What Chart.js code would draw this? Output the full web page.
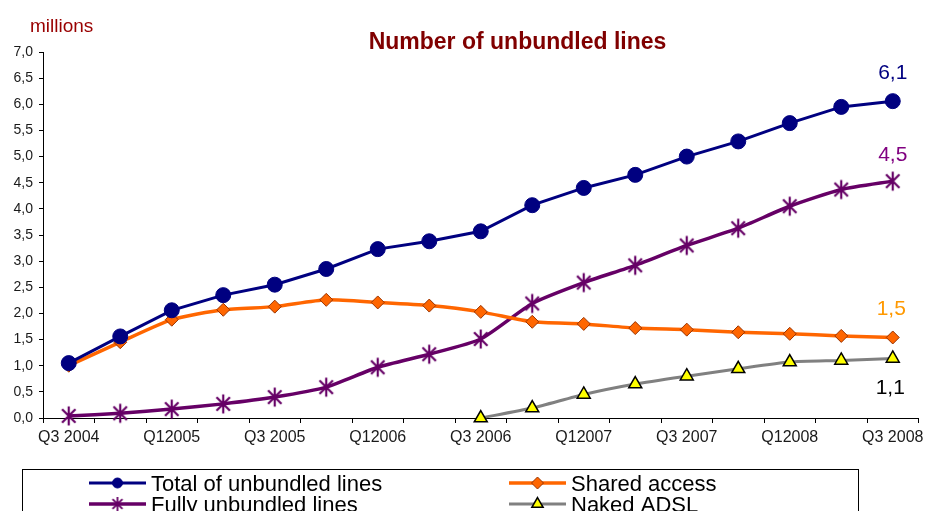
<!DOCTYPE html>
<html>
<head>
<meta charset="utf-8">
<script src="https://cdn.jsdelivr.net/npm/chart.js@4/dist/chart.umd.min.js"></script>
<style>
  html, body { margin: 0; padding: 0; background: #fff; }
  #wrap { width: 929px; height: 511px; overflow: hidden; }
</style>
</head>
<body>
<div id="wrap"><canvas id="c" width="929" height="511"></canvas></div>
<script>
// Quarterly figures, in millions of lines
const quarters = ['Q3 2004', 'Q4 2004', 'Q12005', 'Q2 2005', 'Q3 2005', 'Q4 2005',
                  'Q12006', 'Q2 2006', 'Q3 2006', 'Q4 2006', 'Q12007', 'Q2 2007',
                  'Q3 2007', 'Q4 2007', 'Q12008', 'Q2 2008', 'Q3 2008'];
const totalLines     = [1.05, 1.56, 2.06, 2.35, 2.55, 2.85, 3.23, 3.38, 3.57, 4.07, 4.40, 4.65, 5.00, 5.29, 5.64, 5.95, 6.06];
const sharedAccess   = [1.00, 1.45, 1.88, 2.07, 2.13, 2.26, 2.21, 2.15, 2.03, 1.84, 1.80, 1.72, 1.69, 1.64, 1.61, 1.57, 1.54];
const fullyUnbundled = [0.04, 0.09, 0.17, 0.27, 0.40, 0.59, 0.97, 1.22, 1.51, 2.19, 2.59, 2.92, 3.30, 3.63, 4.05, 4.37, 4.53];
const nakedAdsl      = [null, null, null, null, null, null, null, null, 0.00, 0.19, 0.45, 0.65, 0.80, 0.94, 1.07, 1.10, 1.14];
const seriesNames    = ['Total of unbundled lines', 'Shared access', 'Fully unbundled lines', 'Naked ADSL'];
const yMin = 0, yMax = 7, yStep = 0.5;

const FONT = "'Liberation Sans', Arial, Helvetica, sans-serif";
const fmt = v => v.toFixed(1).replace('.', ',');

// Asterisk marker (vertical stroke plus two diagonals)
function asterisk(color, r, lw) {
  const s = Math.ceil(2 * r + lw + 2);
  const cv = document.createElement('canvas');
  cv.width = s; cv.height = s;
  const g = cv.getContext('2d');
  const c = s / 2;
  g.strokeStyle = color; g.lineWidth = lw; g.lineCap = 'butt';
  g.beginPath();
  g.moveTo(c, c - r); g.lineTo(c, c + r);
  const d = r * Math.SQRT1_2;
  g.moveTo(c - d, c - d); g.lineTo(c + d, c + d);
  g.moveTo(c - d, c + d); g.lineTo(c + d, c - d);
  g.stroke();
  return cv;
}
const starBig = asterisk('#660066', 9.5, 2.2);
const starSmall = asterisk('#660066', 7, 1.8);

// Title and unit caption
const headerPlugin = {
  id: 'header',
  afterDraw(chart) {
    const ctx = chart.ctx;
    ctx.save();
    ctx.textBaseline = 'alphabetic';
    ctx.textAlign = 'center';
    ctx.fillStyle = '#800000';
    ctx.font = 'bold 23px ' + FONT;
    ctx.fillText('Number of unbundled lines', 517.5, 49);
    ctx.textAlign = 'left';
    ctx.fillStyle = '#990000';
    ctx.font = '19px ' + FONT;
    ctx.fillText('millions', 30, 32);
    ctx.restore();
  }
};

// Value of the last point written next to it
const endLabelPlugin = {
  id: 'endLabels',
  afterDatasetsDraw(chart) {
    const ctx = chart.ctx;
    ctx.save();
    ctx.font = '21px ' + FONT;
    ctx.textAlign = 'center';
    ctx.textBaseline = 'middle';
    chart.data.datasets.forEach((ds, i) => {
      if (!ds.endLabel) return;
      const meta = chart.getDatasetMeta(i);
      const last = ds.data.length - 1;
      const pt = meta.data[last];
      ctx.fillStyle = ds.endLabel.color;
      ctx.fillText(fmt(ds.data[last]), pt.x + ds.endLabel.dx, pt.y + ds.endLabel.dy);
    });
    ctx.restore();
  }
};

// Boxed two-column legend under the axis
const boxLegendPlugin = {
  id: 'boxLegend',
  afterDraw(chart) {
    const ctx = chart.ctx;
    const slots = [[89, 483], [509, 483], [89, 504], [509, 504]];
    ctx.save();
    ctx.strokeStyle = '#000';
    ctx.lineWidth = 1;
    ctx.strokeRect(22.5, 469.5, 836, 60);
    chart.data.datasets.forEach((ds, i) => {
      const [x, y] = slots[i];
      ctx.strokeStyle = ds.borderColor;
      ctx.lineWidth = ds.borderWidth;
      ctx.beginPath();
      ctx.moveTo(x, y); ctx.lineTo(x + 57, y);
      ctx.stroke();
      ctx.fillStyle = ds.pointBackgroundColor;
      ctx.strokeStyle = ds.pointBorderColor;
      ctx.lineWidth = ds.pointBorderWidth;
      Chart.helpers.drawPoint(ctx, {
        pointStyle: ds.legendPointStyle || ds.pointStyle,
        radius: ds.legendRadius,
        rotation: 0,
        borderWidth: ds.pointBorderWidth
      }, x + 28.5, y);
      ctx.fillStyle = '#000';
      ctx.font = '22px ' + FONT;
      ctx.textAlign = 'left';
      ctx.textBaseline = 'alphabetic';
      ctx.fillText(ds.label, x + 62, y + 8);
    });
    ctx.restore();
  }
};

new Chart(document.getElementById('c'), {
  type: 'line',
  data: {
    labels: quarters,
    datasets: [
      {
        label: seriesNames[0], data: totalLines,
        borderColor: '#000080', borderWidth: 3, tension: 0,
        pointStyle: 'circle', pointRadius: 7.5, legendRadius: 5,
        pointBackgroundColor: '#000080', pointBorderColor: '#000080', pointBorderWidth: 1,
        endLabel: { color: '#000080', dx: 0, dy: -28 }
      },
      {
        label: seriesNames[1], data: sharedAccess,
        borderColor: '#FF6600', borderWidth: 3.5, tension: 0.2,
        pointStyle: 'rectRot', pointRadius: 6.5, legendRadius: 6,
        pointBackgroundColor: '#FF6600', pointBorderColor: '#993300', pointBorderWidth: 1,
        endLabel: { color: '#FF9900', dx: -1.5, dy: -28 }
      },
      {
        label: seriesNames[2], data: fullyUnbundled,
        borderColor: '#660066', borderWidth: 3.5, tension: 0.2,
        pointStyle: starBig, legendPointStyle: starSmall, pointRadius: 9.5, legendRadius: 7,
        pointBackgroundColor: '#660066', pointBorderColor: '#660066', pointBorderWidth: 1,
        endLabel: { color: '#800080', dx: 0, dy: -26 }
      },
      {
        label: seriesNames[3], data: nakedAdsl,
        borderColor: '#808080', borderWidth: 3, tension: 0.2,
        pointStyle: 'triangle', pointRadius: 7.5, legendRadius: 6.5,
        pointBackgroundColor: '#FFFF00', pointBorderColor: '#000000', pointBorderWidth: 1.5,
        endLabel: { color: '#000000', dx: -2.5, dy: 30 }
      }
    ]
  },
  options: {
    responsive: false,
    animation: false,
    devicePixelRatio: 1,
    clip: false,
    layout: { padding: { top: 52, right: 8, left: 0, bottom: 0 } },
    plugins: {
      legend: { display: false },
      title: { display: false },
      tooltip: { enabled: false }
    },
    elements: { point: { hoverRadius: 7.5 } },
    scales: {
      x: {
        offset: true,
        afterFit(scale) { scale.height = 93; },
        grid: { offset: true, drawOnChartArea: false, tickLength: 5, color: '#000' },
        border: { color: '#000', width: 1 },
        ticks: {
          autoSkip: false, maxRotation: 0, minRotation: 0, padding: 5,
          color: '#1a1a1a', font: { family: FONT, size: 16 },
          callback: (v, i) => (i % 2 === 0 ? quarters[i] : '')
        }
      },
      y: {
        min: yMin, max: yMax,
        afterFit(scale) { scale.width = 43; },
        grid: { drawOnChartArea: false, tickLength: 4, color: '#000' },
        border: { color: '#000', width: 1 },
        ticks: {
          stepSize: yStep, padding: 6,
          color: '#1a1a1a', font: { family: FONT, size: 14 },
          callback: v => fmt(v)
        }
      }
    }
  },
  plugins: [headerPlugin, endLabelPlugin, boxLegendPlugin]
});
</script>
</body>
</html>
